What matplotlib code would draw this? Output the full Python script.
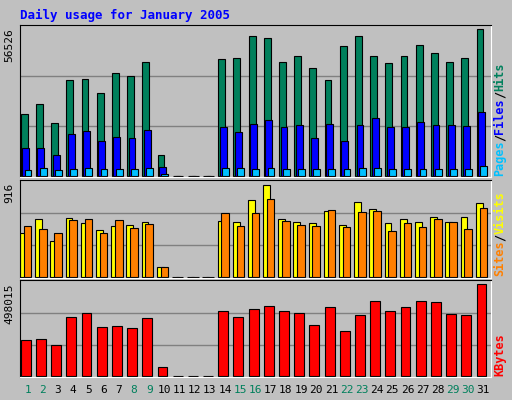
import numpy as np
import matplotlib.pyplot as plt

days = np.arange(1, 32)
hits = [23400, 27100, 20000, 36200, 36500, 31300, 38800, 37700, 43300, 7900, 0, 0, 0,
        44100, 44800, 52800, 52000, 43300, 45200, 40700, 36200, 49000, 53100, 45200,
        42600, 45200, 49700, 46700, 43000, 44500, 55400]
files = [10600, 10600, 7900, 15800, 17000, 13200, 14700, 14300, 17300, 3400, 0, 0, 0,
         18500, 16600, 19600, 21100, 18500, 19200, 14300, 19600, 13200, 19200, 21900,
         18500, 18500, 20300, 19200, 19200, 18800, 24100]
pages = [2400, 3000, 2300, 2700, 3000, 2500, 2700, 2700, 3000, 800, 0, 0, 0,
         3000, 3000, 2800, 3000, 2700, 2800, 2600, 2800, 2700, 2900, 3000,
         2600, 2800, 2800, 2700, 2700, 2800, 3800]
visits = [423, 556, 348, 565, 518, 452, 490, 499, 527, 101, 0, 0, 0,
          537, 527, 736, 875, 553, 530, 515, 629, 496, 720, 648,
          515, 553, 530, 572, 525, 572, 710]
sites = [490, 461, 423, 546, 556, 423, 546, 471, 508, 101, 0, 0, 0,
         613, 490, 613, 742, 537, 499, 490, 644, 480, 622, 632,
         442, 518, 480, 553, 525, 458, 657]
kbytes = [189000, 194000, 163000, 311000, 332000, 258000, 263000, 253000, 306000, 51000, 0, 0, 0,
          343000, 311000, 350000, 369000, 343000, 332000, 269000, 364000, 237000, 323000, 396000,
          343000, 360000, 396000, 390000, 327000, 323000, 481000]
weekend = [1, 2, 8, 9, 15, 16, 22, 23, 29, 30]
hits_max, visits_max, kb_max = 56526, 916, 498015

W, H = 512, 400
fig = plt.figure(figsize=(W / 100, H / 100), dpi=100)
fig.patch.set_facecolor("#C0C0C0")
mono = "DejaVu Sans Mono"

def make_ax(top, bottom, ymax):
    ax = fig.add_axes([20 / W, 1 - bottom / H, 471 / W, (bottom - top) / H])
    ax.set_facecolor("#C0C0C0")
    ax.set_xlim(0.5, 31.5)
    ax.set_ylim(-ymax * 0.006, ymax * 1.01)
    for f in (1 / 3, 2 / 3):
        ax.axhline(ymax * f, color="#808080", lw=1, zorder=0)
    ax.set_xticks([])
    ax.set_yticks([])
    for s in ax.spines.values():
        s.set_color("black")
    ax.spines["bottom"].set_color("white")
    ax.spines["right"].set_color("white")
    return ax

ec = dict(edgecolor="black", linewidth=0.8, align="edge")
ax1 = make_ax(25, 177, hits_max)
ax1.bar(days - 0.45, hits, 0.45, color="#00805C", **ec)
ax1.bar(days - 0.35, files, 0.45, color="#0000FF", **ec)
ax1.bar(days - 0.2, pages, 0.45, color="#00C0FF", **ec)

ax2 = make_ax(180, 278, visits_max)
ax2.bar(days - 0.5, visits, 0.45, color="#FFFF00", **ec)
ax2.bar(days - 0.25, sites, 0.5, color="#FF8000", **ec)

ax3 = make_ax(280, 377, kb_max)
ax3.bar(days - 0.45, kbytes, 0.65, color="#FF0000", **ec)

fig.text(20 / W, 1 - 15 / H, "Daily usage for January 2005", color="#0000FF",
         fontfamily=mono, fontweight="bold", fontsize=9, va="center")
for y, lab in [(25, str(hits_max)), (180, str(visits_max)), (280, str(kb_max))]:
    fig.text(9 / W, 1 - (y + 3) / H, lab, rotation=90, fontfamily=mono, fontsize=8,
             va="top", ha="center")

for d in days:
    fig.text((20 + (d - 0.5) * 471 / 31) / W, 1 - 390 / H, str(d), ha="center", va="center",
             fontsize=8, fontfamily=mono, color="#00805C" if d in weekend else "black")

def side_label(bottom, parts, fs=8.5):
    # rotated text reads bottom to top, so stack pieces upward
    ypx = bottom
    step = 0.6 * fs * 100 / 72
    for txt, col in parts:
        fig.text(500 / W, 1 - ypx / H, txt, rotation=90, color=col, fontfamily=mono,
                 fontsize=fs, fontweight="bold", ha="center", va="bottom")
        ypx -= len(txt) * step

side_label(176, [("Pages", "#00C0FF"), ("/", "black"), ("Files", "#0000FF"),
                 ("/", "black"), ("Hits", "#00805C")], fs=8.5)
side_label(276, [("Sites", "#FF8000"), ("/", "black"), ("Visits", "#FFFF00")])
side_label(376, [("KBytes", "#FF0000")])

fig.savefig("out.png", dpi=100, facecolor=fig.get_facecolor())
